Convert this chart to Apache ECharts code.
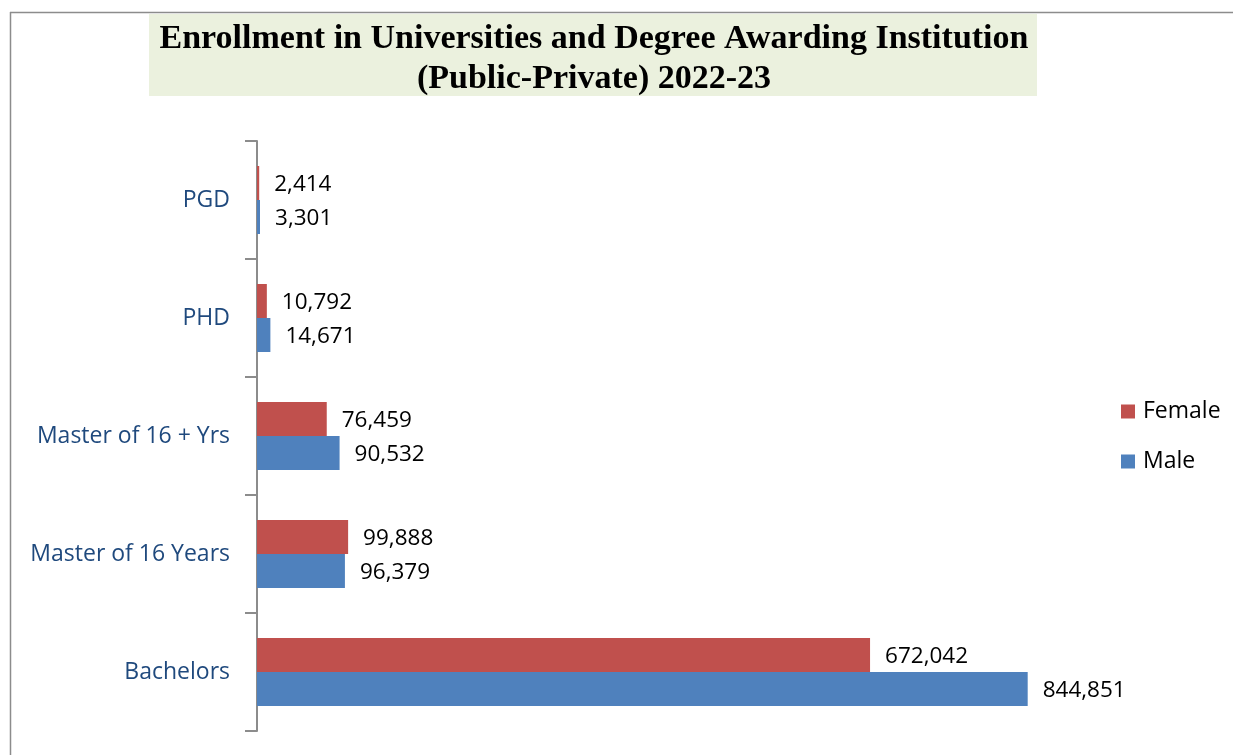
<!DOCTYPE html>
<html>
<head>
<meta charset="utf-8">
<script src="https://cdn.jsdelivr.net/npm/echarts@6/dist/echarts.min.js"></script>
<style>
html,body{margin:0;padding:0;background:#fff;}
#chart{width:1235px;height:755px;}
</style>
</head>
<body>
<div id="chart"></div>
<script>
const categories = ['Bachelors', 'Master of 16 Years', 'Master of 16 + Yrs', 'PHD', 'PGD'];
const female = [672042, 99888, 76459, 10792, 2414];
const male = [844851, 96379, 90532, 14671, 3301];
const titleText = 'Enrollment in Universities and Degree Awarding Institution\n(Public-Private) 2022-23';

const chart = echarts.init(document.getElementById('chart'), null, {renderer: 'canvas'});
const fmt = p => p.value.toLocaleString('en-US');
const labelStyle = {
  show: true, position: 'right', distance: 15, offset: [0, 2],
  color: '#000', fontSize: 22.5, fontFamily: 'Open Sans', formatter: fmt
};
chart.setOption({
  animation: false,
  backgroundColor: '#fff',
  graphic: [
    {type: 'line', shape: {x1: 10.5, y1: 12, x2: 10.5, y2: 755}, style: {stroke: '#8c8c8c', lineWidth: 1.5}},
    {type: 'line', shape: {x1: 10, y1: 12.5, x2: 1233, y2: 12.5}, style: {stroke: '#8c8c8c', lineWidth: 1.5}},
    {type: 'rect', shape: {x: 149, y: 14, width: 888, height: 82}, style: {fill: '#EBF1DE'}, z: -1}
  ],
  title: {
    text: titleText,
    left: 589, top: 14, textAlign: 'center',
    textStyle: {fontFamily: 'Liberation Serif', fontWeight: 'bold', fontSize: 34, lineHeight: 40, color: '#000'}
  },
  legend: {
    orient: 'vertical', left: 1121, top: 400, padding: 0,
    itemWidth: 14, itemHeight: 14, itemGap: 27,
    icon: 'rect',
    data: ['Female', 'Male'],
    textStyle: {fontFamily: 'Open Sans', fontSize: 23, color: '#000', padding: [0, 0, 0, 3]}
  },
  grid: {left: 257, top: 141, width: 821, bottom: 24, containLabel: false},
  xAxis: {
    type: 'value', min: 0, max: 900000, show: false
  },
  yAxis: {
    type: 'category', data: categories,
    axisLine: {show: true, lineStyle: {color: '#8c8c8c', width: 2}},
    axisTick: {show: true, length: 12, lineStyle: {color: '#8c8c8c', width: 2}},
    axisLabel: {margin: 27, color: '#1F497D', fontSize: 23, fontFamily: 'Open Sans'},
    splitLine: {show: false}
  },
  series: [
    {name: 'Female', type: 'bar', data: female, barWidth: 34, barGap: '0%',
     itemStyle: {color: '#C0504D'}, label: labelStyle},
    {name: 'Male', type: 'bar', data: male, barWidth: 34, barGap: '0%',
     itemStyle: {color: '#4F81BD'}, label: labelStyle}
  ]
});
</script>
</body>
</html>
